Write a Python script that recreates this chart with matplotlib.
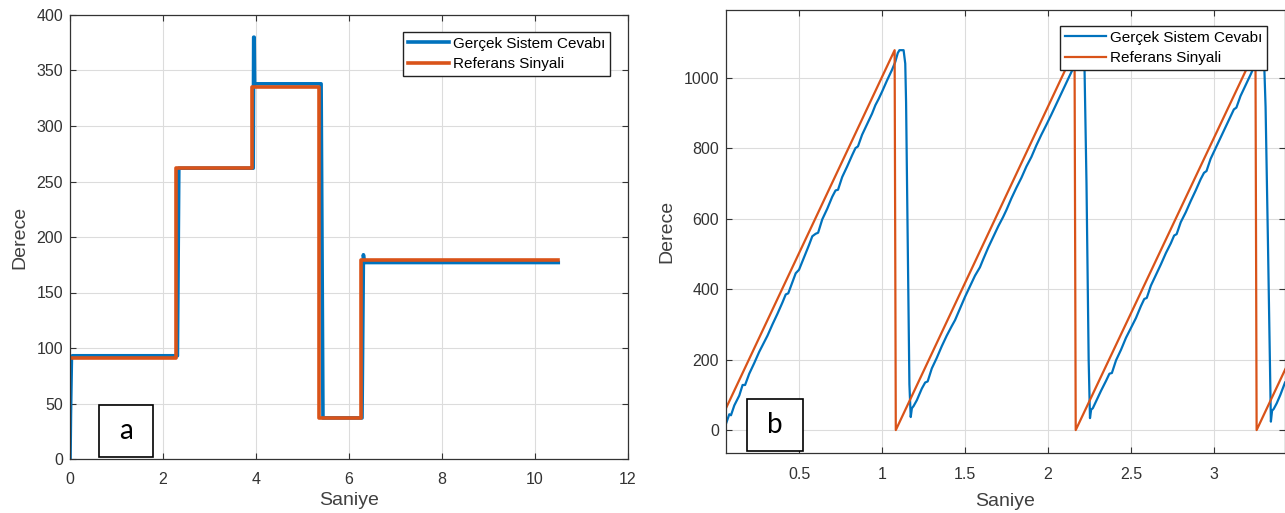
import matplotlib
matplotlib.use("Agg")
import matplotlib.pyplot as plt
from matplotlib.patches import Rectangle

plt.rcParams['font.family'] = ['Liberation Sans', 'DejaVu Sans']

BLUE = '#0072BD'
ORANGE = '#D95319'
AX_COL = '#333333'
GRID_COL = '#dcdcdc'

# panel a: step reference and measured response
a_ref_t = [0.00, 2.29, 2.29, 3.91, 3.91, 5.36, 5.36, 6.25, 6.25, 10.50]
a_ref_y = [91, 91, 262, 262, 335, 335, 37, 37, 179, 179]

a_sys_t = [0.00, 0.01, 0.03, 0.05, 2.31, 2.34, 3.94, 3.95, 3.96, 3.97,
           5.40, 5.44, 6.28, 6.31, 6.32, 6.35, 10.50]
a_sys_y = [0, 40, 90, 93, 93, 262, 262, 380, 380, 338,
           338, 37, 37, 184, 180, 177, 177]

# panel b: sawtooth reference and measured response
b_ref_t = [0.06, 1.076, 1.083, 2.160, 2.167, 3.250, 3.257, 3.43]
b_ref_y = [62, 1078, 0, 1078, 0, 1078, 0, 173]

b_sys_t = [0.06, 0.08, 0.09, 0.11, 0.14, 0.16, 0.175, 0.20, 0.23, 0.26,
           0.29, 0.31, 0.34, 0.37, 0.40, 0.42, 0.435, 0.46, 0.48, 0.50,
           0.53, 0.56, 0.58, 0.60, 0.615, 0.64, 0.67, 0.70, 0.72, 0.735,
           0.76, 0.79, 0.82, 0.84, 0.855, 0.88, 0.91, 0.94, 0.96, 0.98,
           1.00, 1.03, 1.06, 1.08, 1.095, 1.105, 1.13, 1.14, 1.145, 1.165,
           1.173, 1.18, 1.19,
           1.21, 1.24, 1.26, 1.275, 1.30, 1.33, 1.36, 1.39, 1.42, 1.44,
           1.47, 1.50, 1.53, 1.56, 1.59, 1.61, 1.64, 1.67, 1.70, 1.73,
           1.75, 1.78, 1.81, 1.84, 1.87, 1.90, 1.93, 1.96, 1.99, 2.02,
           2.05, 2.08, 2.11, 2.14, 2.17, 2.19, 2.20, 2.215, 2.22, 2.232,
           2.245, 2.253, 2.26, 2.27,
           2.29, 2.32, 2.35, 2.37, 2.385, 2.41, 2.44, 2.47, 2.50, 2.53,
           2.56, 2.58, 2.595, 2.62, 2.65, 2.68, 2.71, 2.74, 2.76, 2.775,
           2.80, 2.83, 2.86, 2.89, 2.92, 2.94, 2.955, 2.98, 3.01, 3.04,
           3.07, 3.10, 3.12, 3.135, 3.16, 3.19, 3.22, 3.25, 3.283, 3.30,
           3.311, 3.325, 3.343, 3.35, 3.36, 3.378, 3.40, 3.428]
b_sys_y = [18, 45, 42, 70, 98, 128, 128, 160, 190, 222,
           250, 268, 300, 330, 362, 385, 388, 420, 445, 455,
           490, 525, 550, 557, 560, 598, 628, 662, 680, 682,
           718, 748, 780, 800, 805, 838, 868, 898, 922, 940,
           960, 992, 1022, 1045, 1070, 1078, 1078, 1040, 930, 130,
           37, 62, 68,
           85, 118, 135, 138, 175, 205, 238, 268, 295, 312,
           345, 378, 408, 438, 462, 485, 518, 548, 578, 605,
           625, 658, 688, 716, 748, 775, 808, 838, 866, 895,
           925, 955, 985, 1015, 1045, 1068, 1078, 1078, 1030, 700,
           200, 34, 58, 62,
           82, 112, 140, 160, 162, 198, 228, 262, 290, 318,
           352, 372, 375, 410, 440, 470, 502, 530, 552, 556,
           590, 618, 650, 680, 712, 730, 735, 770, 800, 830,
           860, 890, 910, 915, 948, 978, 1008, 1040, 1078, 1078,
           917, 540, 24, 55, 60, 76, 100, 135]

legend_labels = ['Gerçek Sistem Cevabı', 'Referans Sinyali']

W, H = 1285, 513
fig = plt.figure(figsize=(W / 100, H / 100), dpi=100)


def px_box(x0, y0, x1, y1):
    # pixel box (top-left origin) -> figure fraction rect
    return [x0 / W, 1 - y1 / H, (x1 - x0) / W, (y1 - y0) / H]


def style_axes(ax, xpad):
    ax.grid(True, color=GRID_COL, linewidth=0.8)
    ax.set_axisbelow(True)
    ax.tick_params(direction='in', top=True, right=True, length=4,
                   width=0.8, colors=AX_COL, labelsize=11.5, pad=5)
    ax.tick_params(axis='x', pad=xpad)
    for sp in ax.spines.values():
        sp.set_color(AX_COL)
        sp.set_linewidth(0.9)
    ax.set_xlabel('Saniye', fontsize=14, color='#404040')
    ax.set_ylabel('Derece', fontsize=14, color='#404040')


# ---- panel a
ax1 = fig.add_axes(px_box(70, 15, 628, 459))
ax1.plot(a_sys_t, a_sys_y, color=BLUE, lw=2.6, label=legend_labels[0])
ax1.plot(a_ref_t, a_ref_y, color=ORANGE, lw=2.6, label=legend_labels[1])
ax1.set_xlim(0, 12)
ax1.set_ylim(0, 400)
ax1.set_xticks(range(0, 13, 2))
ax1.set_yticks(range(0, 401, 50))
style_axes(ax1, 9)
ax1.xaxis.labelpad = 4
ax1.yaxis.labelpad = 6
leg1 = ax1.legend(loc='upper left', bbox_to_anchor=(403 / W, 1 - 32 / H),
                  bbox_transform=fig.transFigure, fontsize=11,
                  fancybox=False, framealpha=1, edgecolor='#222222',
                  handlelength=2.7, handletextpad=0.25, labelspacing=0.45,
                  borderpad=0.3, borderaxespad=0)
leg1.get_frame().set_linewidth(1.0)

# ---- panel b
ax2 = fig.add_axes(px_box(726, 10, 1285, 453))
ax2.plot(b_sys_t, b_sys_y, color=BLUE, lw=1.6, label=legend_labels[0])
ax2.plot(b_ref_t, b_ref_y, color=ORANGE, lw=1.6, label=legend_labels[1])
ax2.set_xlim(0.06, 3.428)
ax2.set_ylim(-65, 1192)
ax2.set_xticks([0.5, 1, 1.5, 2, 2.5, 3])
ax2.set_xticklabels(['0.5', '1', '1.5', '2', '2.5', '3'])
ax2.set_yticks(range(0, 1001, 200))
style_axes(ax2, 10)
ax2.xaxis.labelpad = 8
ax2.yaxis.labelpad = 6
leg2 = ax2.legend(loc='upper left', bbox_to_anchor=(1060 / W, 1 - 26 / H),
                  bbox_transform=fig.transFigure, fontsize=11,
                  fancybox=False, framealpha=1, edgecolor='#222222',
                  handlelength=2.7, handletextpad=0.25, labelspacing=0.45,
                  borderpad=0.3, borderaxespad=0)
leg2.get_frame().set_linewidth(1.0)

# ---- panel letters
for (x0, y0, x1, y1), letter in [((99, 405, 153, 457), 'a'),
                                 ((747, 399, 803, 451), 'b')]:
    r = px_box(x0, y0, x1, y1)
    fig.add_artist(Rectangle((r[0], r[1]), r[2], r[3], transform=fig.transFigure,
                             facecolor='white', edgecolor='black', lw=1.2, zorder=5))
    fig.text(r[0] + r[2] / 2, r[1] + r[3] / 2, letter, fontsize=20,
             family=['Lato', 'DejaVu Sans'], ha='center', va='center', zorder=6)

fig.savefig('out.png', dpi=100)
